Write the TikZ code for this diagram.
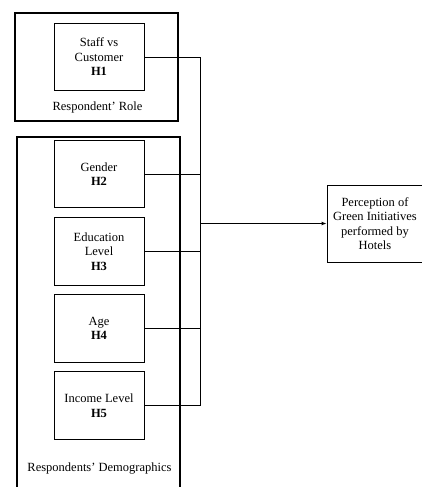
\documentclass[tikz,border=0pt]{standalone}
\usepackage{fontspec}
\setmainfont{Liberation Serif}
\usetikzlibrary{arrows.meta}
\begin{document}
\begin{tikzpicture}[x=1pt,y=-1pt,
  every node/.style={font=\fontsize{12.5}{14.5}\selectfont, inner sep=0pt},
  group/.style={draw, line width=1.6pt, minimum width=163pt},
  hbox/.style={draw, line width=0.8pt, minimum width=90pt, minimum height=67.5pt, align=center},
  tbox/.style={draw, line width=0.8pt, minimum width=96pt, minimum height=77pt, align=center},
  conn/.style={line width=0.7pt},
  mainarrow/.style={line width=1.2pt, -{Latex[length=5pt,width=4pt]}},
  grouplabel/.style={align=center}]
\useasboundingbox (0,0) rectangle (422,487);
\node[group, minimum height=108pt] (role) at (96.5,67) {};
\node[group, minimum height=352pt] (demo) at (98.5,313) {};
\node[hbox] (h1) at (99,57) {Staff vs\\Customer\\\textbf{H1}};
\node[hbox] (h2) at (99,174) {Gender\\\textbf{H2}};
\node[hbox] (h3) at (99,251.5) {Education\\Level\\\textbf{H3}};
\node[hbox] (h4) at (99,328.5) {Age\\\textbf{H4}};
\node[hbox] (h5) at (99,405.5) {Income Level\\\textbf{H5}};
\node[grouplabel] (rolelabel) at (97.5,107) {Respondent’ Role};
\node[grouplabel] (demolabel) at (99.5,469) {Respondents’ Demographics};
\node[tbox] (target) at (375,223.5) {Perception of\\Green Initiatives\\performed by\\Hotels};
\coordinate (top) at (200,57);
\coordinate (bot) at (200,405.5);
\coordinate (junc) at (200,223.5);
\draw[conn] (h1.east) -- (top) -- (bot) -- (h5.east);
\draw[conn] (h2.east) -- (h2.east -| top);
\draw[conn] (h3.east) -- (h3.east -| top);
\draw[conn] (h4.east) -- (h4.east -| top);
\draw[mainarrow] (junc) -- (target.west);
\end{tikzpicture}
\end{document}
